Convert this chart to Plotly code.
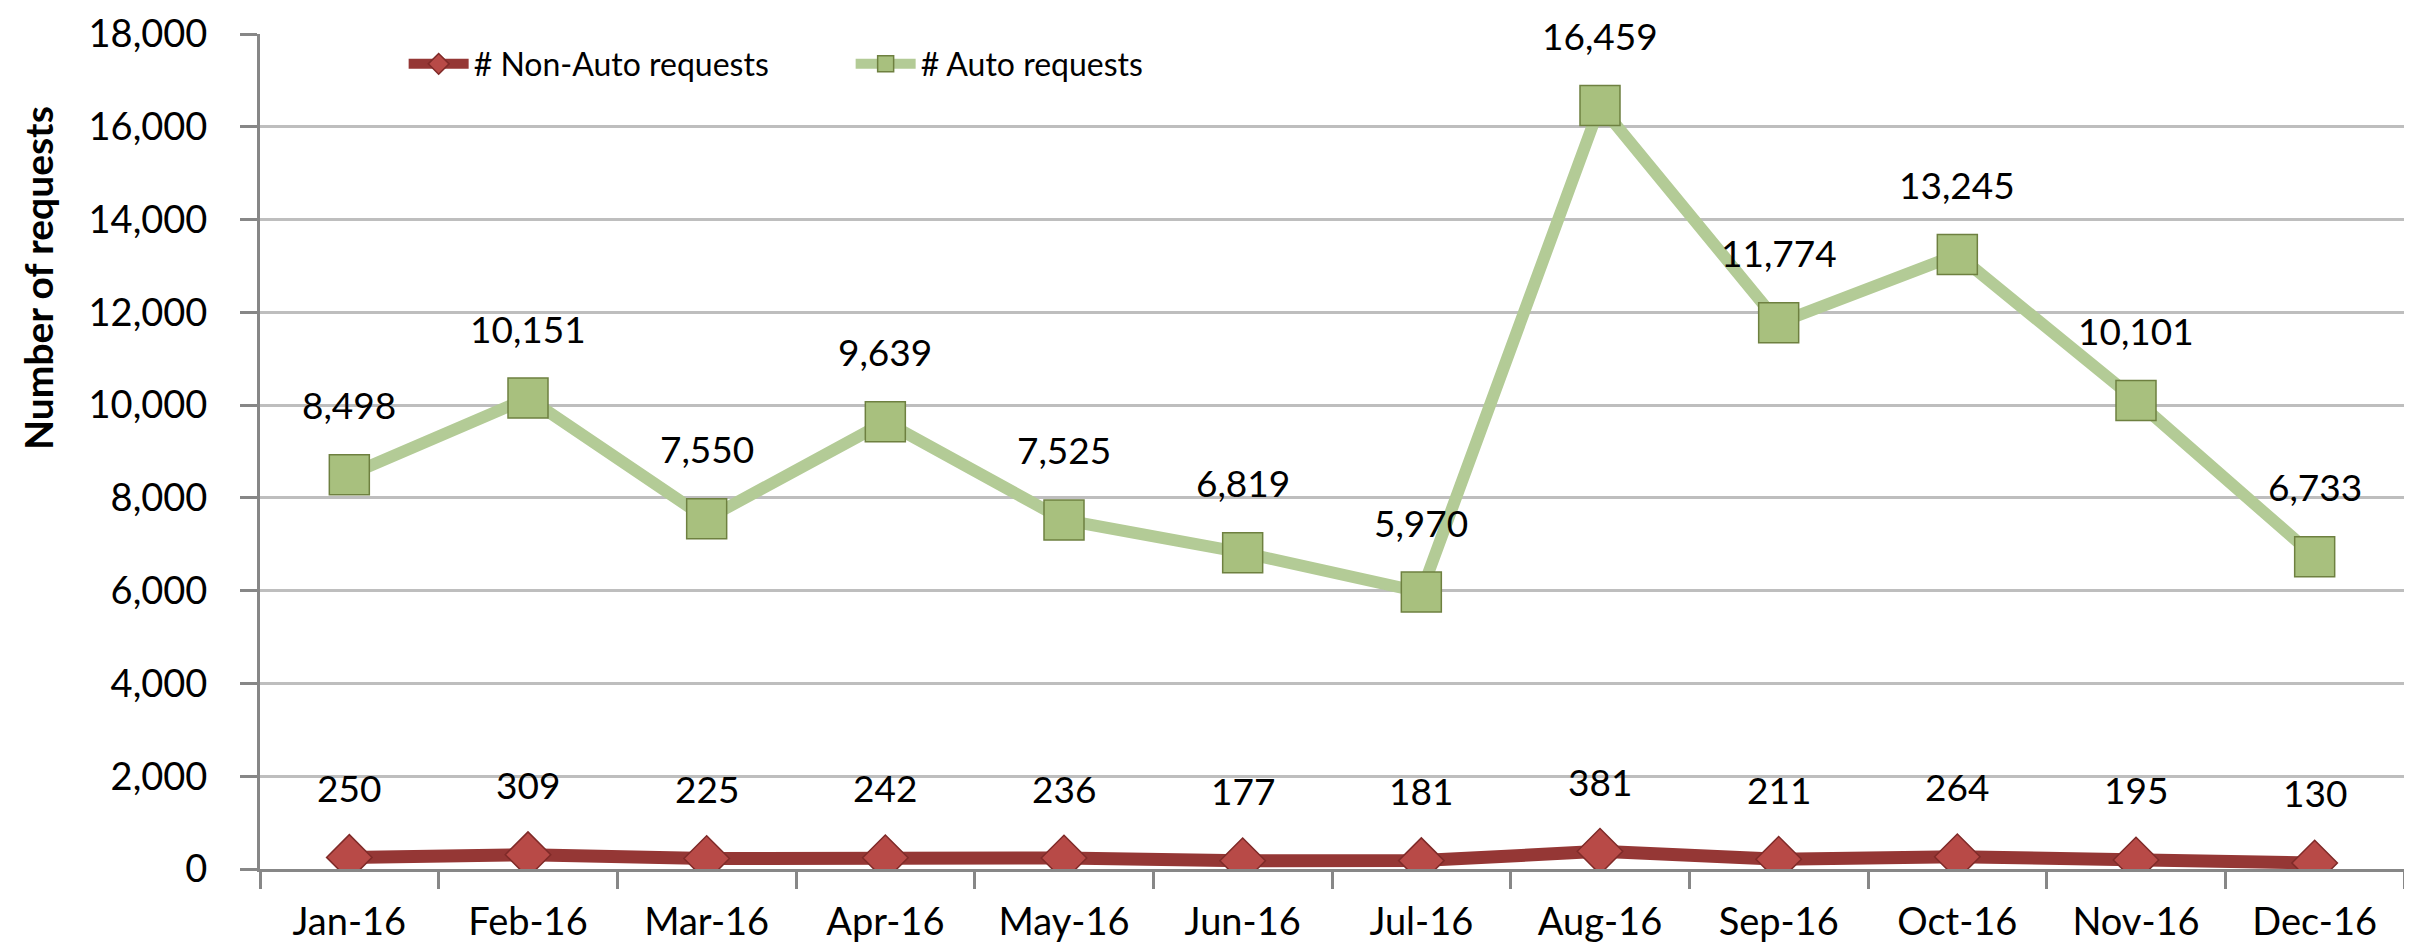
import plotly.graph_objects as go

months = ["Jan-16", "Feb-16", "Mar-16", "Apr-16", "May-16", "Jun-16",
          "Jul-16", "Aug-16", "Sep-16", "Oct-16", "Nov-16", "Dec-16"]
non_auto = [250, 309, 225, 242, 236, 177, 181, 381, 211, 264, 195, 130]
auto = [8498, 10151, 7550, 9639, 7525, 6819, 5970, 16459, 11774, 13245, 10101, 6733]
y_ticks = list(range(0, 18001, 2000))

FONT = "Lato, Carlito, Calibri, sans-serif"

fig = go.Figure()
fig.add_trace(go.Scatter(
    x=months, y=non_auto, name="# Non-Auto requests", mode="lines+markers",
    line=dict(color="#953735", width=13),
    marker=dict(symbol="diamond", size=35, color="#B84A47",
                line=dict(color="#7F2A28", width=1.5)),
))
fig.add_trace(go.Scatter(
    x=months, y=auto, name="# Auto requests", mode="lines+markers",
    line=dict(color="#B3CB96", width=12),
    marker=dict(symbol="square", size=40, color="#A8C07E",
                line=dict(color="#6E8040", width=1.5)),
))

annotations = []
for series in (non_auto, auto):
    for m, v in zip(months, series):
        annotations.append(dict(
            x=m, y=v, text=f"{v:,}", showarrow=False, yshift=70,
            font=dict(family=FONT, size=37, color="black"),
            xanchor="center", yanchor="middle",
        ))
annotations.append(dict(
    xref="paper", yref="paper", x=-0.1035, y=0.708,
    text="<b>Number of requests</b>", textangle=-90, showarrow=False,
    font=dict(family=FONT, size=39, color="black"),
    xanchor="center", yanchor="middle",
))

fig.update_layout(
    width=2412, height=946,
    margin=dict(l=252, r=16, t=26, b=85),
    paper_bgcolor="white", plot_bgcolor="white",
    font=dict(family=FONT, color="black"),
    annotations=annotations,
    showlegend=True,
    legend=dict(
        orientation="h", x=0.067, y=0.964, xanchor="left", yanchor="middle",
        font=dict(family=FONT, size=32, color="black"),
        bgcolor="rgba(255,255,255,0)", itemwidth=60, entrywidth=372,
    ),
    xaxis=dict(
        type="category", range=[-0.5, 11.5], automargin=False,
        tickson="boundaries", ticks="outside", ticklen=17, tickwidth=3,
        tickcolor="#878787", showline=True, linecolor="#878787", linewidth=3,
        showgrid=False, tickfont=dict(family=FONT, size=38, color="black"),
        ticklabelstandoff=17,
    ),
    yaxis=dict(
        range=[0, 18000], tickvals=y_ticks, tickformat=",", automargin=False,
        ticks="outside", ticklen=17, tickwidth=3, tickcolor="#878787",
        showline=True, linecolor="#878787", linewidth=3,
        showgrid=True, gridcolor="#BEBEBE", gridwidth=3,
        zeroline=False, ticklabelstandoff=25,
        tickfont=dict(family=FONT, size=38, color="black"),
    ),
)

fig.write_html("out.html")
